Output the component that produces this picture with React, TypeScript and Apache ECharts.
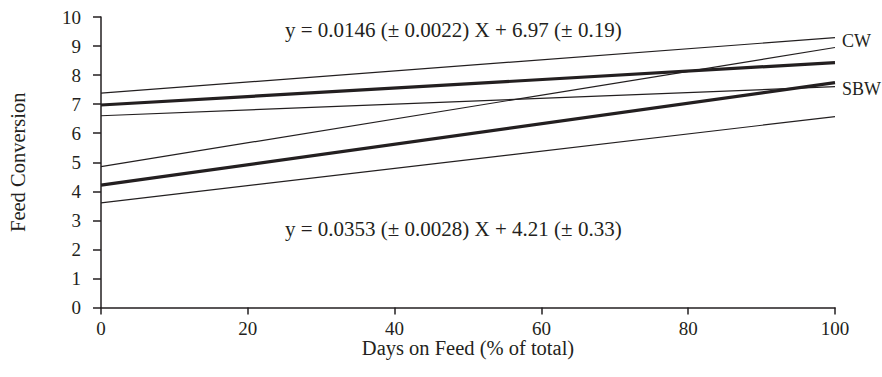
import React, { useEffect, useRef } from "react";
import * as echarts from "echarts";

const xEnds = [0, 100];
const cwFit = [6.97, 8.43];
const cwUpper = [7.38, 9.29];
const cwLower = [6.6, 7.6];
const sbwFit = [4.21, 7.74];
const sbwUpper = [4.85, 8.95];
const sbwLower = [3.6, 6.57];
const yTicks = [0, 1, 2, 3, 4, 5, 6, 7, 8, 9, 10];
const xTicks = [0, 20, 40, 60, 80, 100];
const cwEquation = "y = 0.0146 (± 0.0022) X + 6.97 (± 0.19)";
const sbwEquation = "y = 0.0353 (± 0.0028) X + 4.21 (± 0.33)";
const cwName = "CW";
const sbwName = "SBW";

const FONT = "'Liberation Serif', 'DejaVu Serif', serif";
const INK = "#231f20";

function pts(ys: number[]) {
  return xEnds.map((x, i) => [x, ys[i]]);
}

export default function App() {
  const ref = useRef<HTMLDivElement>(null);
  useEffect(() => {
    if (!ref.current) return;
    const chart = echarts.init(ref.current, undefined, { renderer: "svg" });
    const line = (name: string, ys: number[], width: number) => ({
      name,
      type: "line",
      data: pts(ys),
      symbol: "none",
      lineStyle: { color: INK, width },
      z: width > 2 ? 3 : 2,
    });
    chart.setOption({
      animation: false,
      backgroundColor: "#fff",
      grid: { left: 101, right: 47, top: 17, bottom: 69.5, outerBoundsMode: "none" },
      xAxis: {
        type: "value",
        min: 0,
        max: 100,
        interval: 20,
        name: "Days on Feed (% of total)",
        nameLocation: "middle",
        nameGap: 30,
        nameMoveOverlap: false,
        nameTextStyle: { fontFamily: FONT, fontSize: 20.5, color: INK },
        axisLine: { lineStyle: { color: INK, width: 1.5 } },
        axisTick: { show: true, length: 7, lineStyle: { color: INK, width: 1.5 } },
        axisLabel: {
          fontFamily: FONT,
          fontSize: 19,
          color: INK,
          margin: 11,
          formatter: (v: number) => (xTicks.includes(v) ? String(v) : ""),
        },
        splitLine: { show: false },
      },
      yAxis: {
        type: "value",
        min: 0,
        max: 10,
        interval: 1,
        name: "Feed Conversion",
        nameLocation: "middle",
        nameGap: 73,
        nameMoveOverlap: false,
        nameRotate: 90,
        nameTextStyle: { fontFamily: FONT, fontSize: 20.5, color: INK },
        axisLine: { show: true, lineStyle: { color: INK, width: 1.5 } },
        axisTick: { show: true, length: 8, lineStyle: { color: INK, width: 1.5 } },
        axisLabel: {
          fontFamily: FONT,
          fontSize: 19,
          color: INK,
          margin: 20,
          formatter: (v: number) => (yTicks.includes(v) ? String(v) : ""),
        },
        splitLine: { show: false },
      },
      series: [
        line("CW upper", cwUpper, 1.2),
        line("CW", cwFit, 3.2),
        line("CW lower", cwLower, 1.2),
        line("SBW upper", sbwUpper, 1.2),
        line("SBW", sbwFit, 3.2),
        line("SBW lower", sbwLower, 1.2),
      ],
      graphic: [
        {
          type: "text",
          left: 285,
          top: 19,
          style: { text: cwEquation, fontFamily: FONT, fontSize: 21, fill: INK },
        },
        {
          type: "text",
          left: 285,
          top: 218,
          style: { text: sbwEquation, fontFamily: FONT, fontSize: 21, fill: INK },
        },
        {
          type: "text",
          left: 842,
          top: 32,
          style: { text: cwName, fontFamily: FONT, fontSize: 18, fill: INK },
        },
        {
          type: "text",
          left: 842,
          top: 80,
          style: { text: sbwName, fontFamily: FONT, fontSize: 18, fill: INK },
        },
      ],
    });
    return () => chart.dispose();
  }, []);
  return (
    <div
      ref={ref}
      style={{ position: "fixed", left: 0, top: 0, width: 882, height: 377 }}
    />
  );
}
